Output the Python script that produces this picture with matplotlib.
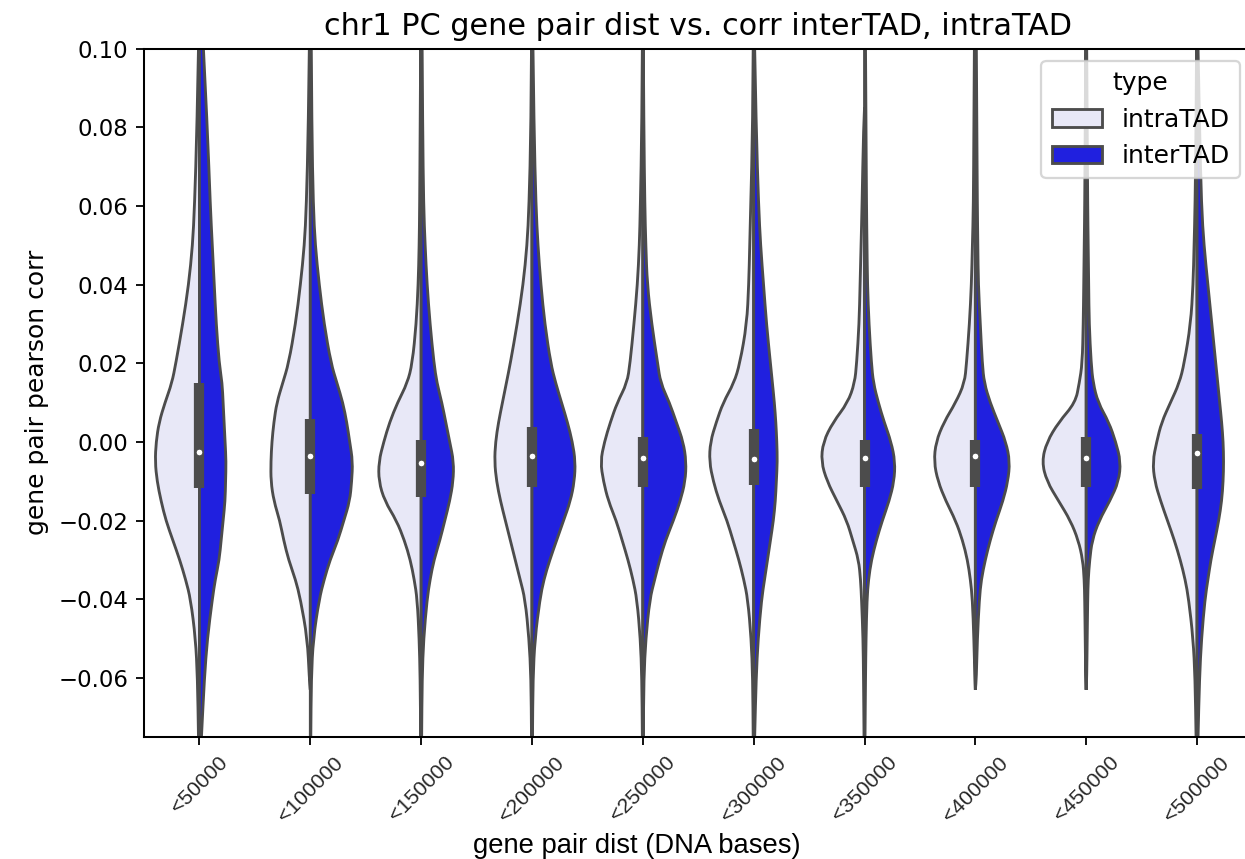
import numpy as np
import matplotlib
matplotlib.use('Agg')
import matplotlib.pyplot as plt
from matplotlib.patches import Patch, PathPatch
from matplotlib.path import Path

# distance bins (x categories)
bins = ['<50000', '<100000', '<150000', '<200000', '<250000',
        '<300000', '<350000', '<400000', '<450000', '<500000']

# correlation levels at which the violin widths were read
levels = [0.10, 0.08, 0.06, 0.05, 0.04, 0.03, 0.02, 0.015, 0.01, 0.005, 0.0,
          -0.005, -0.01, -0.015, -0.02, -0.025, -0.03, -0.035, -0.04,
          -0.05, -0.06, -0.075]

# estimated density (arbitrary units) of intraTAD pairs, one row per bin
intra_dens = [
    [1, 2.5, 5, 7, 11, 17, 24, 28, 35, 41, 44, 45, 43, 39, 34, 27, 20, 14, 9, 4, 2, 1],
    [1, 2, 4, 6, 10, 15, 22, 28, 34, 37, 39, 40, 40, 37, 31, 27, 22, 15, 10, 3, 1, 0.5],
    [0.5, 1, 1.5, 2, 3, 5, 9, 14, 24, 32, 38, 43, 43, 37, 25, 17, 11, 7, 4, 2, 1, 0.5],
    [0.5, 1, 3, 5, 9, 15, 22, 26, 30, 34, 37, 38, 36, 32, 27, 22, 17, 12, 7, 3, 1, 0.5],
    [0.5, 1, 2.5, 3.5, 5.5, 9, 13, 16, 26, 33, 39, 43, 40, 35, 27, 21, 15, 10, 6, 2.5, 1, 0.5],
    [0.5, 1, 3, 4, 5, 7, 14, 20, 31, 38, 44, 45, 41, 35, 27, 21, 15, 10, 6, 2.5, 1, 0.5],
    [0.5, 1, 2.5, 3.5, 4.5, 5.5, 8, 10, 17, 32, 42, 44, 38, 28, 18, 12, 6, 4, 3, 1.5, 1, 0.5],
    [1, 1.5, 2, 3, 4, 6, 9, 11, 20, 32, 40, 42, 38, 30, 20, 13, 8, 5, 3, 1.5, 0.5, 0.5],
    [0.5, 1, 1.5, 2, 2.5, 3, 4, 7, 11, 28, 40, 45, 40, 28, 16, 8, 3.5, 2, 1.5, 1, 0.5, 0.5],
    [0.5, 1, 2, 3, 4, 6.5, 13, 18, 27, 36, 41, 45, 43, 37, 30, 23, 17, 12, 8.5, 4, 2, 1],
]

# estimated density (arbitrary units) of interTAD pairs, one row per bin
inter_dens = [
    [4, 8, 11, 13, 15, 17, 20, 23, 24, 25, 26, 27, 26.5, 26, 24, 22, 20, 16, 13, 8, 5, 2],
    [1, 1.5, 3, 5, 9, 14, 21, 27, 33, 37, 40, 43, 42, 40, 34, 28, 20, 14, 9, 3, 1, 0.5],
    [1, 1.5, 2.5, 4, 6, 9, 13, 16, 21, 25, 29, 33, 32.5, 29, 24, 19, 13, 9, 6, 2.5, 1, 0.5],
    [1, 2, 4, 6, 9, 13, 19, 24, 30, 36, 41, 44, 43, 39, 32, 25, 18, 12, 8, 3, 1, 0.5],
    [0.5, 1, 2, 3, 4.5, 9, 15, 18, 27, 34, 41, 44, 43, 38, 31, 23, 17, 12, 7, 3, 1, 0.5],
    [1, 2.5, 5, 7, 10, 13, 17, 19, 21, 22.5, 23.5, 24, 23, 22, 20, 17, 14, 11, 8, 4.5, 2.5, 1],
    [1, 1.5, 2, 2.5, 3, 4.5, 7, 9, 14, 20, 27, 31, 30, 25, 18, 12, 7, 4, 2.5, 1.5, 1, 0.5],
    [1, 1.5, 2, 2.5, 3, 5, 7, 9, 15, 23, 31, 35, 33, 28, 21, 15, 10, 6, 4, 2, 1, 0.5],
    [0.5, 1, 1.5, 2, 2.5, 3, 5, 7, 12, 23, 30, 35, 33, 24, 13, 6, 3.5, 2, 1.5, 1, 0.5, 0.5],
    [1, 2.5, 4.5, 7, 11, 15, 19, 21, 23, 25, 26.5, 27, 26.5, 25, 22, 18, 14, 11, 8, 4.5, 2.5, 1],
]

# where a half violin ends inside the visible range (None = runs off the axes)
intra_top = [None, None, None, None, None, None, 0.085, None, None, None]
intra_bot = [None, -0.063, None, None, None, None, None, -0.063, -0.063, None]
inter_top = [None] * 10
inter_bot = [None, None, None, None, None, None, None, -0.063, -0.063, None]

# inner box: quartiles and median of all pairs in the bin
q25 = [-0.0118, -0.0133, -0.0141, -0.0115, -0.0115, -0.0110, -0.0115, -0.0115, -0.0115, -0.0120]
q50 = [-0.0026, -0.0036, -0.0054, -0.0036, -0.0041, -0.0044, -0.0041, -0.0036, -0.0041, -0.0029]
q75 = [0.0149, 0.0058, 0.0006, 0.0037, 0.0012, 0.0034, 0.0006, 0.0006, 0.0013, 0.0021]

light = '#e8e8f7'
blue = '#2020df'
gray = '#4c4c4c'
lw = 1.25

plt.rcParams['font.family'] = 'DejaVu Sans'
plt.rcParams['axes.spines.top'] = True
plt.rcParams['axes.spines.right'] = True
fig = plt.figure(figsize=(1245 / 164, 859 / 164), dpi=164)
ax = fig.add_axes([0.1157, 0.142, 0.8903, 0.8015])

ymin, ymax = -0.075, 0.10
dmax = max(max(r) for r in intra_dens + inter_dens)
scale = 0.4 / dmax


def half(ax, center, side, dens, top, bot, color):
    y = np.array(levels)
    d = np.array(dens, dtype=float) * scale
    keep = np.ones(len(y), bool)
    if top is not None:
        keep &= y < top
    if bot is not None:
        keep &= y > bot
    pts = [(center + side * w, v) for v, w in zip(y[keep], d[keep])]
    if top is not None:
        pts.insert(0, (center, top))
    if bot is not None:
        pts.append((center, bot))
    # smooth outline: quadratic curve segments with the read points as controls
    verts = [(center, pts[0][1]), pts[0]]
    codes = [Path.MOVETO, Path.LINETO]
    for k in range(1, len(pts) - 1):
        mid = ((pts[k][0] + pts[k + 1][0]) / 2, (pts[k][1] + pts[k + 1][1]) / 2)
        verts += [pts[k], mid]
        codes += [Path.CURVE3, Path.CURVE3]
    verts += [pts[-1], (center, pts[-1][1]), (center, pts[0][1])]
    codes += [Path.LINETO, Path.LINETO, Path.CLOSEPOLY]
    ax.add_patch(PathPatch(Path(verts, codes), facecolor=color,
                           edgecolor=gray, lw=lw))


for i in range(len(bins)):
    half(ax, i, -1, intra_dens[i], intra_top[i], intra_bot[i], light)
    half(ax, i, 1, inter_dens[i], inter_top[i], inter_bot[i], blue)
    ax.plot([i, i], [q25[i], q75[i]], color=gray, lw=4.5, solid_capstyle='butt')
    ax.scatter(i, q50[i], s=9, color='white', edgecolor=gray, lw=0.5, zorder=3)

ax.set_xlim(-0.5, len(bins) - 0.5)
ax.set_ylim(ymin, ymax)
ax.set_xticks(range(len(bins)))
ax.set_xticklabels(bins, rotation=45, family='Liberation Sans', color='#262626')
ax.tick_params(axis='y', labelsize=10)
ax.tick_params(axis='x', labelsize=9.3)
ax.set_ylabel('gene pair pearson corr', fontsize=11)
ax.set_title('chr1 PC gene pair dist vs. corr interTAD, intraTAD', fontsize=13.3)
ax.set_xlabel('gene pair dist (DNA bases)', fontsize=12, family='Liberation Sans')
ax.xaxis.set_label_coords(0.445, -0.139)

handles = [Patch(facecolor=light, edgecolor=gray, lw=lw, label='intraTAD'),
           Patch(facecolor=blue, edgecolor=gray, lw=lw, label='interTAD')]
ax.legend(handles=handles, title='type', loc='upper right', fontsize=11, title_fontsize=11)

for s in ax.spines.values():
    s.set_visible(True)
    s.set_linewidth(0.9)
    s.set_color('black')
    s.set_zorder(4)

fig.savefig('out.png', dpi=164)
